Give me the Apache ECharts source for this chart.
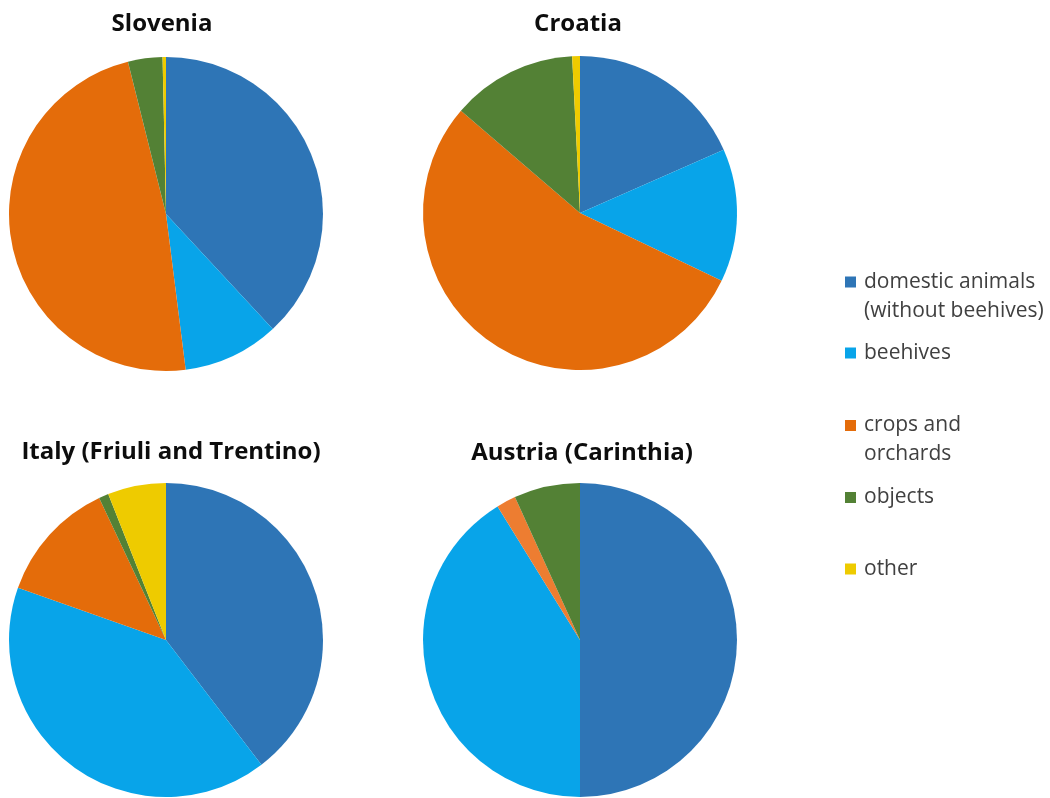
<!DOCTYPE html>
<html>
<head>
<meta charset="utf-8">
<script src="https://cdn.jsdelivr.net/npm/echarts@6/dist/echarts.min.js"></script>
<style>
  html, body { margin: 0; padding: 0; background: #ffffff; }
  #chart { width: 1050px; height: 798px; }
</style>
</head>
<body>
<div id="chart"></div>
<script>
// Categories shown in every pie (line breaks are used by the legend)
const categories = [
  'domestic animals\n(without beehives)',
  'beehives',
  'crops and\norchards',
  'objects',
  'other'
];

// Regions (pie titles)
const regions = ['Slovenia', 'Croatia', 'Italy (Friuli and Trentino)', 'Austria (Carinthia)'];

// Share of cases per category, in percent
const slovenia = [38.1, 9.9, 48.1, 3.55, 0.35];
const croatia  = [18.4, 13.7, 54.2, 12.9, 0.8];
const italy    = [39.6, 40.8, 12.6, 1.0, 6.0];
const austria  = [50.0, 41.2, 2.0, 6.8, 0];

const values = [slovenia, croatia, italy, austria];

// Slice colours
const palette = ['#2E75B6', '#08A4E9', '#E46C0A', '#538135', '#EECB00'];
const austriaPalette = ['#2E75B6', '#08A4E9', '#ED7D31', '#538135', '#EECB00'];

const centers = [[166, 214], [580, 213], [166, 640], [580, 640]];
const titleX = [162, 578, 171, 582];
const titleCenterY = [24, 24, 452, 453];
const radius = 157;

const chart = echarts.init(document.getElementById('chart'), null, { renderer: 'canvas' });

const series = values.map((vals, i) => {
  const colors = i === 3 ? austriaPalette : palette;
  return {
    type: 'pie',
    name: regions[i],
    center: centers[i],
    radius: radius,
    startAngle: 90,
    clockwise: true,
    avoidLabelOverlap: false,
    label: { show: false },
    labelLine: { show: false },
    emphasis: { disabled: true },
    itemStyle: { borderWidth: 0 },
    data: categories.map((c, k) => ({
      name: c,
      value: vals[k],
      itemStyle: { color: colors[k] }
    }))
  };
});

const titleLine = 28;
const titles = regions.map((r, i) => ({
  text: r,
  left: titleX[i],
  top: titleCenterY[i] - titleLine / 2,
  textAlign: 'center',
  padding: 0,
  textStyle: {
    fontFamily: 'Open Sans',
    fontWeight: 'bold',
    fontSize: 24,
    lineHeight: titleLine,
    color: '#0d0d0d'
  }
}));

// One legend block per category so the spacing stays even; two-line
// entries get an empty leading line so the marker sits beside line one
const legendCenters = [282, 353, 425.5, 497.5, 569];
const lineH = 29;
const legends = categories.map((c, k) => {
  const twoLine = c.indexOf('\n') >= 0;
  return {
    orient: 'vertical',
    left: 845,
    top: legendCenters[k] - (twoLine ? lineH * 1.5 : lineH / 2),
    padding: 0,
    icon: 'rect',
    itemWidth: 11,
    itemHeight: 11,
    selectedMode: false,
    data: [c],
    formatter: name => (name.indexOf('\n') >= 0 ? '\n' + name : name),
    textStyle: {
      fontFamily: 'Open Sans',
      fontSize: 21,
      lineHeight: lineH,
      color: '#404040',
      padding: [0, 0, 0, 3]
    }
  };
});

chart.setOption({
  animation: false,
  backgroundColor: '#ffffff',
  title: titles,
  legend: legends,
  series: series
});
</script>
</body>
</html>
